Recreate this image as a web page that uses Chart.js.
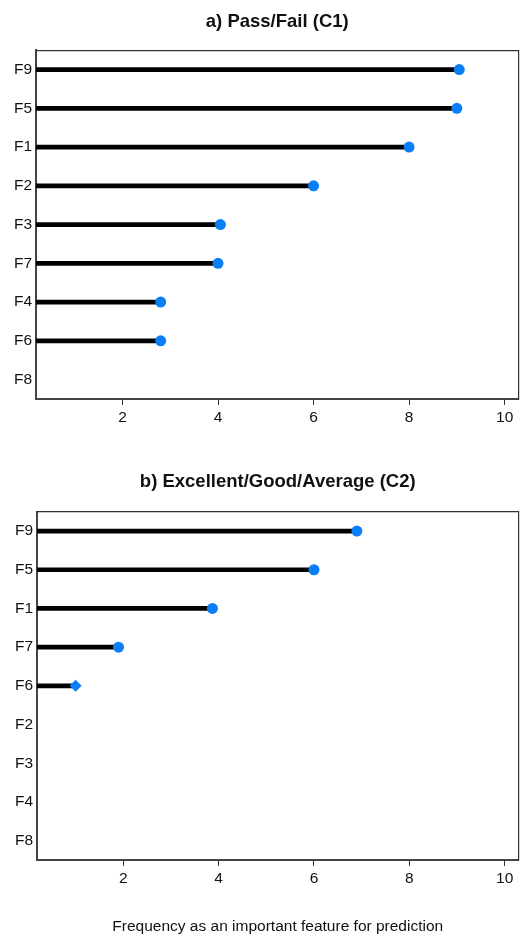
<!DOCTYPE html>
<html>
<head>
<meta charset="utf-8">
<script src="https://cdn.jsdelivr.net/npm/chart.js@4/dist/chart.umd.min.js"></script>
<style>
  body { margin: 0; background: #fff; }
  #wrap1 { position: absolute; left: 0; top: 0; width: 524px; height: 440px; }
  #wrap2 { position: absolute; left: 0; top: 440px; width: 524px; height: 496px; }
</style>
</head>
<body>
<div id="wrap1"><canvas id="c1" width="524" height="440"></canvas></div>
<div id="wrap2"><canvas id="c2" width="524" height="496"></canvas></div>
<script>
// chart a) Pass/Fail (C1)
const features1 = ['F9', 'F5', 'F1', 'F2', 'F3', 'F7', 'F4', 'F6', 'F8'];
const freq1 = [9.05, 9, 8, 6, 4.05, 4, 2.8, 2.8, null];
// chart b) Excellent/Good/Average (C2)
const features2 = ['F9', 'F5', 'F1', 'F7', 'F6', 'F2', 'F3', 'F4', 'F8'];
const freq2 = [6.9, 6, 3.87, 1.9, 1, null, null, null, null];
const xTicks = [2, 4, 6, 8, 10];

Chart.defaults.font.family = "'Liberation Sans', Arial, sans-serif";
Chart.defaults.color = '#111';

const blue = '#0a7ff5';

function makeChart(id, title, labels, values, opts) {
  const styles = values.map((v, i) => (opts.diamondAt === i ? 'rectRot' : 'circle'));
  const radii = values.map((v, i) => (opts.diamondAt === i ? 6 : 5.5));
  return new Chart(document.getElementById(id), {
    type: 'bar',
    data: {
      labels: labels,
      datasets: [
        {
          type: 'line',
          indexAxis: 'y',
          data: values,
          showLine: false,
          pointStyle: styles,
          pointRadius: radii,
          pointBackgroundColor: blue,
          pointBorderWidth: 0,
          order: 0
        },
        {
          type: 'bar',
          data: values,
          backgroundColor: '#000',
          barThickness: 4,
          order: 1
        }
      ]
    },
    options: {
      indexAxis: 'y',
      responsive: false,
      animation: false,
      layout: { padding: { left: 0, right: 3, top: 0, bottom: 0 } },
      plugins: {
        legend: { display: false },
        tooltip: { enabled: false },
        title: {
          display: true,
          fullSize: false,
          text: title,
          color: '#111',
          font: { size: 18.5, weight: 'bold' },
          padding: { top: opts.titleTop, bottom: opts.titleBottom }
        }
      },
      scales: {
        x: {
          type: 'linear',
          position: 'bottom',
          min: 0.19,
          max: 10.29,
          afterBuildTicks: s => { s.ticks = xTicks.map(v => ({ value: v })); },
          afterFit: s => { s.height = opts.xHeight; },
          grid: { display: true, drawOnChartArea: false, tickLength: 6, color: '#333', tickWidth: 1 },
          border: { display: true, color: '#444', width: 2 },
          ticks: { font: { size: 15.5 }, padding: 3, maxRotation: 0 },
          title: {
            display: !!opts.xTitle,
            text: opts.xTitle || '',
            font: { size: 15.5 },
            color: '#111',
            padding: { top: 4, bottom: 0 }
          }
        },
        y: {
          type: 'category',
          position: 'left',
          afterFit: s => { s.width = opts.left; },
          grid: { display: false, drawTicks: false },
          border: { display: true, color: '#444', width: 2 },
          ticks: { font: { size: 15.5 }, padding: 4, autoSkip: false }
        },
        x2: {
          type: 'linear',
          position: 'top',
          afterFit: s => { s.height = 1; },
          grid: { display: false, drawTicks: false },
          border: { display: true, color: '#333', width: 1.2 },
          ticks: { display: false }
        },
        y2: {
          type: 'linear',
          position: 'right',
          afterFit: s => { s.width = 1; },
          grid: { display: false, drawTicks: false },
          border: { display: true, color: '#333', width: 1.2 },
          ticks: { display: false }
        }
      }
    }
  });
}

makeChart('c1', 'a) Pass/Fail (C1)', features1, freq1,
  { left: 36, titleTop: 11, titleBottom: 16, xHeight: 41 });
makeChart('c2', 'b) Excellent/Good/Average (C2)', features2, freq2,
  { left: 37, titleTop: 31, titleBottom: 17.5, xHeight: 76, diamondAt: 4,
    xTitle: 'Frequency as an important feature for prediction' });
</script>
</body>
</html>
